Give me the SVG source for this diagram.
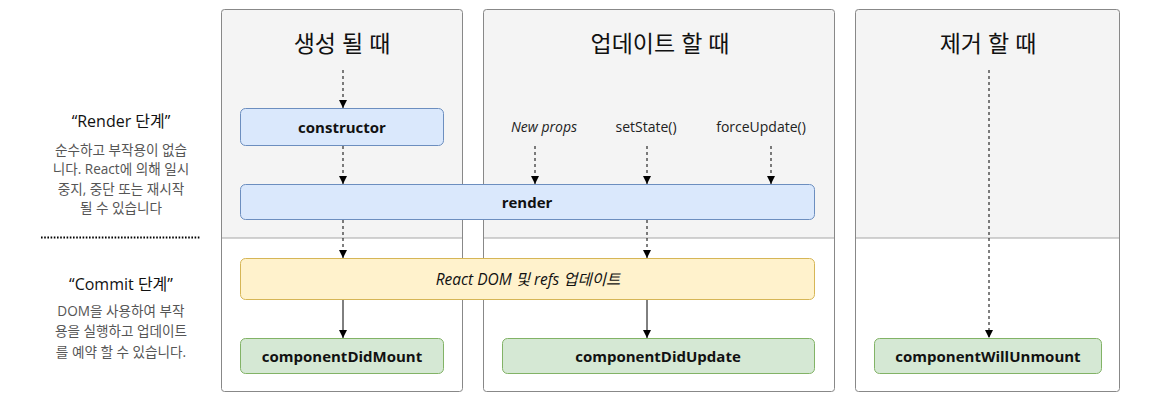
<svg xmlns="http://www.w3.org/2000/svg" width="1173" height="402" viewBox="0 0 1173 402">
<style>
text{font-family:"Open Sans","Noto Sans CJK KR",sans-serif;}
.col-top{fill:#f4f4f4;stroke:none;}
.col-border{fill:none;stroke:#888;stroke-width:1;}
.divider{stroke:#a6a6a6;stroke-width:1;}
.title{font-size:23px;fill:#111;text-anchor:middle;}
.blue{fill:#dae8fc;stroke:#6c8ebf;stroke-width:1;}
.yellow{fill:#fff2cc;stroke:#d6b656;stroke-width:1;}
.green{fill:#d5e8d4;stroke:#82b366;stroke-width:1;}
.lbl{font-size:15px;font-weight:bold;fill:#111;text-anchor:middle;dominant-baseline:central;}
.trig{font-size:14px;fill:#222;text-anchor:middle;}
.phase{font-size:16px;fill:#111;text-anchor:middle;}
.desc{font-size:13.6px;fill:#555;text-anchor:middle;}
.dash{stroke:#000;stroke-width:1;stroke-dasharray:3 3;fill:none;}
.solid{stroke:#000;stroke-width:1;fill:none;}
</style>
<defs>
<marker id="ah" markerUnits="userSpaceOnUse" markerWidth="8" markerHeight="10" refX="8" refY="4" orient="auto">
<path d="M0,0 L8,4 L0,8 z" fill="#000"/>
</marker>
</defs>

<g id="columns">
<g id="col-mount">
<path class="col-top" d="M221,238 V12 a3,3 0 0 1 3,-3 H459 a3,3 0 0 1 3,3 V238 z"/>
<line class="divider" x1="221" y1="238" x2="462" y2="238"/>
<rect class="col-border" x="221.5" y="9.5" width="241" height="382" rx="3"/>
<text class="title" x="342" y="52">생성 될 때</text>
</g>
<g id="col-update">
<path class="col-top" d="M483,238 V12 a3,3 0 0 1 3,-3 H831 a3,3 0 0 1 3,3 V238 z"/>
<line class="divider" x1="483" y1="238" x2="834" y2="238"/>
<rect class="col-border" x="483.5" y="9.5" width="351" height="382" rx="3"/>
<text class="title" x="660" y="52">업데이트 할 때</text>
</g>
<g id="col-unmount">
<path class="col-top" d="M855,238 V12 a3,3 0 0 1 3,-3 H1117 a3,3 0 0 1 3,3 V238 z"/>
<line class="divider" x1="855" y1="238" x2="1120" y2="238"/>
<rect class="col-border" x="855.5" y="9.5" width="264" height="382" rx="3"/>
<text class="title" x="988" y="52">제거 할 때</text>
</g>
</g>

<g id="legend">
<text class="phase" x="121" y="127">“Render 단계”</text>
<text class="desc" x="121" y="155">순수하고 부작용이 없습</text>
<text class="desc" x="121" y="174">니다. React에 의해 일시</text>
<text class="desc" x="121" y="194">중지, 중단 또는 재시작</text>
<text class="desc" x="121" y="213">될 수 있습니다</text>
<line x1="41" y1="237.5" x2="201" y2="237.5" stroke="#000" stroke-width="2" stroke-dasharray="1.6 1.6"/>
<text class="phase" x="121" y="290">“Commit 단계”</text>
<text class="desc" x="121" y="316">DOM을 사용하여 부작</text>
<text class="desc" x="121" y="336">용을 실행하고 업데이트</text>
<text class="desc" x="121" y="357">를 예약 할 수 있습니다.</text>
</g>

<g id="triggers">
<text class="trig" x="544" y="132" font-style="italic">New props</text>
<text class="trig" x="646" y="132">setState()</text>
<text class="trig" x="761" y="132">forceUpdate()</text>
</g>

<g id="connectors">
<line class="dash" x1="343" y1="70" x2="343" y2="108" marker-end="url(#ah)"/>
<line class="dash" x1="343" y1="146" x2="343" y2="184" marker-end="url(#ah)"/>
<line class="dash" x1="535" y1="146" x2="535" y2="184" marker-end="url(#ah)"/>
<line class="dash" x1="647" y1="146" x2="647" y2="184" marker-end="url(#ah)"/>
<line class="dash" x1="771" y1="146" x2="771" y2="184" marker-end="url(#ah)"/>
<line class="dash" x1="343" y1="220" x2="343" y2="258" marker-end="url(#ah)"/>
<line class="dash" x1="647" y1="220" x2="647" y2="258" marker-end="url(#ah)"/>
<line class="solid" x1="343" y1="300" x2="343" y2="338" marker-end="url(#ah)"/>
<line class="solid" x1="647" y1="300" x2="647" y2="338" marker-end="url(#ah)"/>
<line class="dash" x1="989" y1="70" x2="989" y2="338" marker-end="url(#ah)"/>
</g>

<g id="constructor">
<rect class="blue" x="240.5" y="108.5" width="203" height="37" rx="5"/>
<text class="lbl" x="342" y="127">constructor</text>
</g>
<g id="render">
<rect class="blue" x="240.5" y="184.5" width="574" height="35" rx="5"/>
<text class="lbl" x="527" y="202">render</text>
</g>
<g id="react-dom">
<rect class="yellow" x="240.5" y="258.5" width="574" height="41" rx="5"/>
<text x="528" y="279" font-size="15.5" font-style="italic" fill="#111" text-anchor="middle" dominant-baseline="central">React DOM 및 refs 업데이트</text>
</g>
<g id="componentDidMount">
<rect class="green" x="240.5" y="338.5" width="203" height="35" rx="5"/>
<text class="lbl" x="342" y="356">componentDidMount</text>
</g>
<g id="componentDidUpdate">
<rect class="green" x="502.5" y="338.5" width="312" height="35" rx="5"/>
<text class="lbl" x="658" y="356">componentDidUpdate</text>
</g>
<g id="componentWillUnmount">
<rect class="green" x="874.5" y="338.5" width="227" height="35" rx="5"/>
<text class="lbl" x="988" y="356">componentWillUnmount</text>
</g>
</svg>
